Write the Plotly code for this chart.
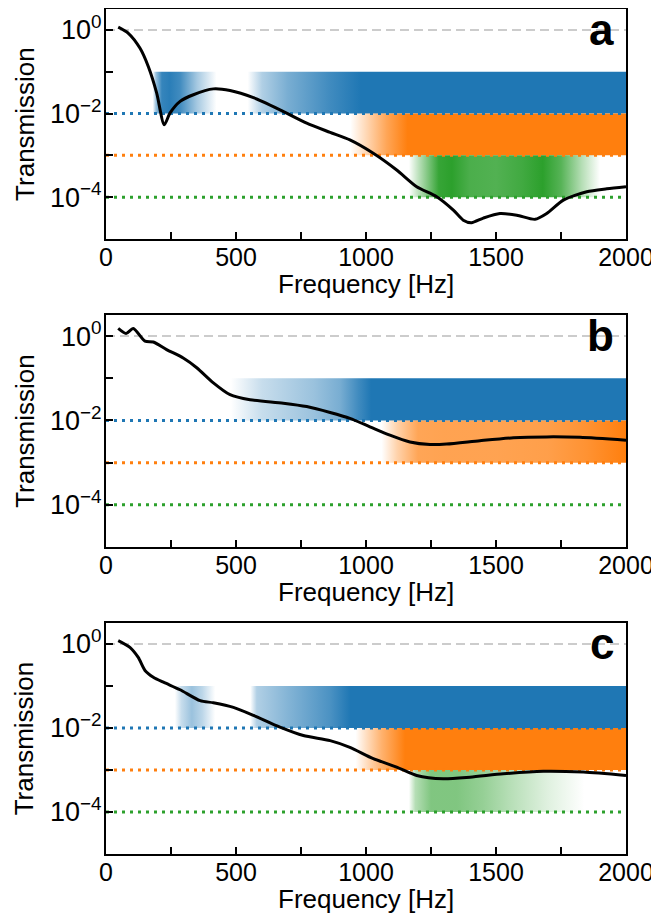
import plotly.graph_objects as go

# ---------------- data ----------------
# Panel a: transmission curve
FREQ_A = [47, 86, 131, 163, 195, 224, 246, 285, 336, 413, 477, 567, 669, 772, 862, 938,
          1028, 1118, 1195, 1272, 1336, 1374, 1406, 1451, 1515, 1580, 1650, 1695, 1759,
          1849, 1926, 2000]
LOGT_A = [0.065, -0.08, -0.44, -0.88, -1.51, -2.27, -1.99, -1.71, -1.55, -1.41, -1.45,
          -1.62, -1.91, -2.23, -2.45, -2.63, -2.95, -3.35, -3.75, -3.99, -4.31, -4.55,
          -4.61, -4.50, -4.39, -4.43, -4.53, -4.39, -4.07, -3.87, -3.80, -3.75]
# Panel b
FREQ_B = [47, 77, 105, 150, 182, 233, 297, 349, 413, 477, 554, 682, 772, 862, 938, 1015,
          1092, 1169, 1246, 1310, 1438, 1567, 1695, 1823, 2000]
LOGT_B = [0.18, 0.06, 0.18, -0.12, -0.14, -0.32, -0.52, -0.75, -1.11, -1.39, -1.51,
          -1.59, -1.67, -1.81, -1.95, -2.15, -2.35, -2.51, -2.57, -2.56, -2.48, -2.41,
          -2.39, -2.40, -2.47]
# Panel c
FREQ_C = [47, 92, 124, 150, 182, 221, 285, 362, 413, 490, 567, 669, 759, 862, 938, 1028,
          1118, 1195, 1297, 1400, 1528, 1682, 1836, 2000]
LOGT_C = [0.08, -0.08, -0.32, -0.63, -0.79, -0.91, -1.09, -1.35, -1.40, -1.51, -1.70,
          -1.98, -2.18, -2.30, -2.46, -2.73, -2.93, -3.13, -3.21, -3.17, -3.09, -3.03,
          -3.05, -3.13]

# Threshold bands: (lower, upper) transmission limits
BAND_LIMITS = {"blue": (1e-2, 1e-1), "orange": (1e-3, 1e-2), "green": (1e-4, 1e-3)}
THRESHOLDS = [1e-2, 1e-3, 1e-4]
REFERENCE_LEVEL = 1.0

# Band opacity profiles (frequency knots, opacity)
A_BLUE_F = [0, 180, 192, 215, 245, 285, 350, 425, 545, 600, 700, 860, 980, 2000]
A_BLUE_V = [0, 0, 0.45, 0.9, 0.95, 0.85, 0.4, 0, 0, 0.35, 0.6, 0.85, 1, 1]
A_ORANGE_F = [0, 940, 1000, 1080, 1160, 2000]
A_ORANGE_V = [0, 0, 0.3, 0.7, 1, 1]
A_GREEN_F = [0, 1165, 1200, 1280, 1330, 1400, 1500, 1600, 1680, 1750, 1830, 1900, 2000]
A_GREEN_V = [0, 0, 0.3, 0.95, 1, 0.85, 0.82, 0.9, 1, 0.8, 0.35, 0, 0]

B_BLUE_F = [0, 480, 600, 800, 900, 970, 1020, 2000]
B_BLUE_V = [0, 0, 0.25, 0.45, 0.6, 0.85, 1, 1]
B_ORANGE_F = [0, 1060, 1120, 1200, 1300, 1500, 1700, 1850, 2000]
B_ORANGE_V = [0, 0, 0.35, 0.7, 0.72, 0.72, 0.75, 0.85, 1]

C_BLUE_F = [0, 265, 290, 330, 370, 420, 555, 580, 700, 860, 940, 2000]
C_BLUE_V = [0, 0, 0.25, 0.45, 0.3, 0, 0, 0.35, 0.55, 0.8, 1, 1]
C_ORANGE_F = [0, 960, 1000, 1060, 1150, 2000]
C_ORANGE_V = [0, 0, 0.25, 0.6, 1, 1]
C_GREEN_F = [0, 1165, 1190, 1250, 1350, 1450, 1550, 1700, 1840, 2000]
C_GREEN_V = [0, 0, 0.35, 0.6, 0.6, 0.5, 0.35, 0.15, 0, 0]

X_TICKS = [0, 250, 500, 750, 1000, 1250, 1500, 1750, 2000]
X_TICKTEXT = ["0", "", "500", "", "1000", "", "1500", "", "2000"]
Y_TICKS = [1, 1e-1, 1e-2, 1e-3, 1e-4]
Y_EXPONENTS = ["0", None, "\u22122", None, "\u22124"]
PANEL_LABELS = ["a", "b", "c"]
X_TITLE = "Frequency [Hz]"
Y_TITLE = "Transmission"

# ---------------- style ----------------
RGB = {"blue": (31, 119, 180), "orange": (255, 127, 14), "green": (44, 160, 44)}
FONT = "Liberation Sans, Arial, sans-serif"
XMAX = 2000
Y_TICKTEXT = ["" if e is None else f"10<sup>{e}</sup>" for e in Y_EXPONENTS]

panels = [
    (FREQ_A, LOGT_A, {"blue": (A_BLUE_F, A_BLUE_V), "orange": (A_ORANGE_F, A_ORANGE_V),
                      "green": (A_GREEN_F, A_GREEN_V)}),
    (FREQ_B, LOGT_B, {"blue": (B_BLUE_F, B_BLUE_V), "orange": (B_ORANGE_F, B_ORANGE_V)}),
    (FREQ_C, LOGT_C, {"blue": (C_BLUE_F, C_BLUE_V), "orange": (C_ORANGE_F, C_ORANGE_V),
                      "green": (C_GREEN_F, C_GREEN_V)}),
]
domains = [(0.7278, 1.0), (0.3633, 0.6379), (0.0, 0.2734)]

fig = go.Figure()
for i, (fx, fy, bands) in enumerate(panels):
    n = "" if i == 0 else str(i + 1)
    xa, ya = "x" + n, "y" + n
    # gradient bands
    for name, (kf, kv) in bands.items():
        lo, hi = BAND_LIMITS[name]
        r, g, b = RGB[name]
        cs = [[f / XMAX, f"rgba({r},{g},{b},{v})"] for f, v in zip(kf, kv)]
        fig.add_trace(go.Scatter(
            x=[0, XMAX, XMAX, 0, 0], y=[lo, lo, hi, hi, lo], xaxis=xa, yaxis=ya,
            mode="lines", line=dict(width=0), fill="toself",
            fillgradient=dict(type="horizontal", start=0, stop=XMAX, colorscale=cs),
            hoverinfo="skip", showlegend=False))
    # reference lines
    fig.add_trace(go.Scatter(x=[0, XMAX], y=[REFERENCE_LEVEL] * 2, xaxis=xa, yaxis=ya,
                             mode="lines", line=dict(color="#cccccc", width=2, dash="9px,5px"),
                             showlegend=False, hoverinfo="skip"))
    for th, name in zip(THRESHOLDS, ["blue", "orange", "green"]):
        r, g, b = RGB[name]
        fig.add_trace(go.Scatter(x=[0, XMAX], y=[th] * 2, xaxis=xa, yaxis=ya, mode="lines",
                                 line=dict(color=f"rgb({r},{g},{b})", width=3, dash="3px,5px"),
                                 showlegend=False, hoverinfo="skip"))
    # transmission curve
    fig.add_trace(go.Scatter(x=fx, y=[10 ** v for v in fy], xaxis=xa, yaxis=ya, mode="lines",
                             line=dict(color="black", width=3, shape="spline", smoothing=0.7),
                             showlegend=False))
    axis_common = dict(showline=True, linecolor="black", linewidth=2, mirror=True,
                       ticks="inside", ticklen=7, tickwidth=1.5, tickcolor="black",
                       showgrid=False, zeroline=False, automargin=False,
                       tickfont=dict(family=FONT, size=25, color="black"))
    fig.layout["xaxis" + n] = dict(
        axis_common, anchor=ya, domain=[0, 1], range=[0, XMAX], tickvals=X_TICKS,
        ticktext=X_TICKTEXT)
    fig.layout["yaxis" + n] = dict(
        axis_common, anchor=xa, domain=list(domains[i]), type="log", range=[-5, 0.5],
        tickvals=Y_TICKS, ticktext=Y_TICKTEXT)
    fig.layout["yaxis" + n].tickfont.size = 27
    try:
        fig.layout["xaxis" + n].ticklabelstandoff = -5
        fig.layout["yaxis" + n].ticklabelstandoff = -3
    except Exception:
        pass
    # axis titles as annotations
    fig.add_annotation(text=X_TITLE, xref=xa + " domain", yref=ya + " domain",
                       x=0.5, y=-0.196, xanchor="center", yanchor="middle", showarrow=False,
                       font=dict(family=FONT, size=26, color="black"))
    fig.add_annotation(text=Y_TITLE, xref=xa + " domain", yref=ya + " domain",
                       x=-0.156, y=0.5, xanchor="center", yanchor="middle", showarrow=False,
                       textangle=-90, font=dict(family=FONT, size=26, color="black"))
    fig.add_annotation(text=f"<b>{PANEL_LABELS[i]}</b>", xref=xa + " domain", yref=ya + " domain",
                       x=0.981, y=0.91, xanchor="right", yanchor="middle", showarrow=False,
                       font=dict(family=FONT, size=44, color="black"))

# The page body adds an 8px offset, so the figure is 8px smaller than the window.
fig.update_layout(template="none", width=651, height=905,
                  margin=dict(l=98, r=33, t=1, b=59, autoexpand=False),
                  plot_bgcolor="white", paper_bgcolor="white", showlegend=False)
fig.write_html("out.html")
